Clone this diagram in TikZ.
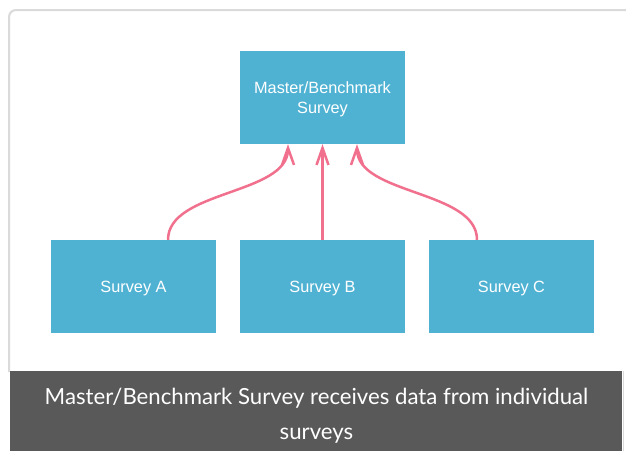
\documentclass[tikz,border=0pt]{standalone}
\usepackage{fontspec}
\setmainfont{Liberation Sans}
\newfontfamily\capfont{Lato}
\usetikzlibrary{arrows.meta}
\definecolor{boxblue}{RGB}{80,178,211}
\definecolor{linkpink}{RGB}{240,112,142}
\definecolor{bargray}{RGB}{89,89,89}
\definecolor{cardline}{RGB}{218,218,218}
\tikzset{
  surveybox/.style={fill=boxblue, draw=none, minimum width=165pt, minimum height=93pt,
    inner sep=0pt, text=white, align=center, text depth=0pt,
    font=\fontsize{16.3}{20}\selectfont},
  link/.style={draw=linkpink, line width=2.5pt, -{Straight Barb[length=17pt,width=12pt]}},
}
\begin{document}
\begin{tikzpicture}[x=1pt,y=-1pt]
\useasboundingbox (0,0) rectangle (626,451);
\fill[white] (0,0) rectangle (626,451);
% card border
\draw[cardline, line width=2pt, rounded corners=7pt] (9,372) -- (9,10) -- (627,10);
\draw[cardline, line width=1.5pt] (623.5,371) -- (623.5,451);
% caption bar
\fill[bargray] (10,371) rectangle (622,451);
\node[text=white, font=\capfont\fontsize{22.2}{35}\selectfont, align=center, inner sep=0pt] (cap) at (316.5,415.5)
  {Master/Benchmark Survey receives data from individual\\surveys};
% boxes
\node[surveybox] (m) at (322.5,97.5) {Master/Benchmark\\Survey};
\node[surveybox] (a) at (133.5,286.5) {Survey A};
\node[surveybox] (b) at (322.5,286.5) {Survey B};
\node[surveybox] (c) at (511.5,286.5) {Survey C};
% connectors
\draw[link] (a.north -| 168,0) .. controls (168,190) and (288,195) .. (m.south -| 288,0);
\draw[link] (b.north) -- (m.south);
\draw[link] (c.north -| 477,0) .. controls (477,190) and (357,195) .. (m.south -| 357,0);
\end{tikzpicture}
\end{document}
